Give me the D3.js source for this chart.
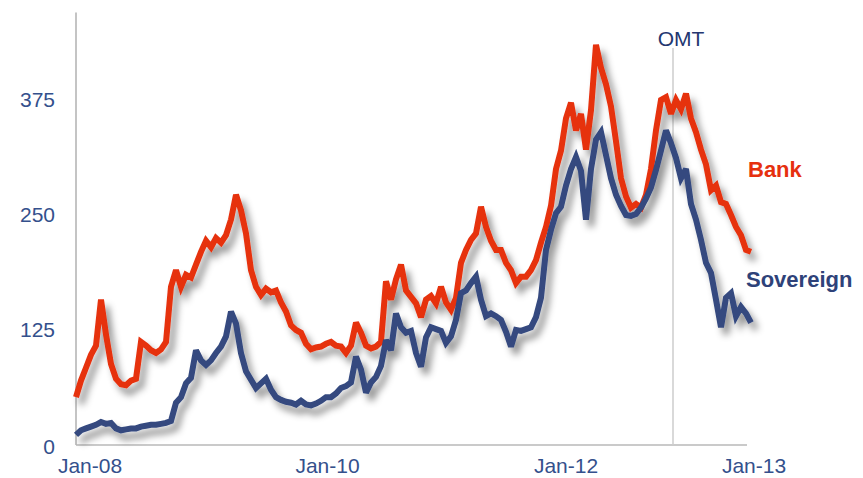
<!DOCTYPE html>
<html>
<head>
<meta charset="utf-8">
<script src="https://cdn.jsdelivr.net/npm/d3@7"></script>
<style>
  html, body { margin: 0; padding: 0; background: #ffffff; }
  svg { display: block; font-family: "Liberation Sans", Arial, Helvetica, sans-serif; }
</style>
</head>
<body>
<svg id="chart" width="863" height="478"></svg>
<script>
// CDS spreads (basis points), sampled at regular observation steps
const bank = [
  52, 70, 84, 98, 108, 158, 120, 88, 72, 66,
  65, 70, 72, 112, 108, 103, 100, 104, 112, 172,
  190, 172, 185, 182, 196, 210, 222, 215, 225, 220,
  228, 245, 272, 255, 230, 190, 172, 163, 170, 166,
  168, 155, 145, 130, 125, 122, 110, 104, 106, 107,
  110, 112, 108, 107, 100, 108, 133, 122, 108, 105,
  107, 112, 178, 158, 180, 196, 168, 161, 154, 139,
  158, 162, 154, 172, 155, 147, 160, 198, 212, 223,
  230, 259, 237, 222, 212, 212, 198, 190, 176, 183,
  183, 190, 201, 220, 237, 260, 300, 320, 355, 372,
  342, 360, 321, 364, 435, 410, 392, 368, 330, 290,
  270, 258, 262, 258, 272, 300, 342, 375, 378, 360,
  375, 365, 382, 355, 340, 321, 305, 277, 282, 264,
  262, 250, 237, 228, 212, 210
];
const sovereign = [
  11, 16, 18, 20, 22, 25, 23, 24, 18, 16,
  17, 18, 18, 20, 21, 22, 22, 23, 24, 26,
  46, 52, 67, 73, 103, 92, 87, 92, 100, 107,
  118, 145, 132, 100, 80, 71, 62, 67, 72, 60,
  52, 49, 47, 46, 44, 48, 44, 43, 45, 48,
  52, 52, 56, 62, 64, 68, 96, 82, 57, 68,
  74, 86, 114, 103, 143, 128, 122, 124, 100, 85,
  117, 128, 126, 124, 111, 118, 136, 165, 168, 176,
  183, 158, 140, 143, 140, 136, 123, 107, 125, 124,
  126, 128, 139, 160, 212, 234, 252, 259, 282, 300,
  313, 298, 245, 300, 332, 340, 315, 290, 272, 260,
  250, 249, 251, 258, 268, 280, 299, 320, 342, 328,
  312, 290, 300, 262, 245, 223, 198, 187, 158, 128,
  160, 165, 140, 150, 143, 133
];

// Axis labels and where they sit along the observation index
const yTicks = [0, 125, 250, 375];
const xTickLabels = ["Jan-08", "Jan-10", "Jan-12", "Jan-13"];
const xTickAt = [2.8, 50.3, 98, 135.6];
const omtAt = 119.4;

const svg = d3.select("#chart");

const x = d3.scaleLinear().domain([0, bank.length - 1]).range([76, 751]);
const y = d3.scaleLinear().domain([0, 375]).range([445, 100]);

// soft drop shadow under the lines
const defs = svg.append("defs");
const f = defs.append("filter").attr("id", "shadow")
  .attr("x", "-5%").attr("y", "-10%").attr("width", "115%").attr("height", "130%");
f.append("feDropShadow")
  .attr("dx", 5).attr("dy", 7).attr("stdDeviation", 3.5)
  .attr("flood-color", "#000").attr("flood-opacity", 0.42);

// axes lines
svg.append("line")
  .attr("x1", 76).attr("x2", 76)
  .attr("y1", y(0)).attr("y2", y(470))
  .attr("stroke", "#c4c4c4").attr("stroke-width", 2);
svg.append("line")
  .attr("x1", 76).attr("x2", 747)
  .attr("y1", y(0)).attr("y2", y(0))
  .attr("stroke", "#b8b8b8").attr("stroke-width", 1.5);

// OMT marker
svg.append("line")
  .attr("x1", x(omtAt)).attr("x2", x(omtAt))
  .attr("y1", 48).attr("y2", y(0))
  .attr("stroke", "#cccccc").attr("stroke-width", 1.5);
svg.append("text")
  .attr("x", x(omtAt) + 8).attr("y", 46)
  .attr("text-anchor", "middle")
  .attr("font-size", 21)
  .attr("fill", "#243670")
  .text("OMT");

// y tick labels
svg.append("g").selectAll("text").data(yTicks).join("text")
  .attr("x", 55).attr("y", d => y(d) + (d === 0 ? 2 : 0))
  .attr("dy", "0.35em")
  .attr("text-anchor", "end")
  .attr("font-size", 21)
  .attr("fill", "#34508c")
  .text(d => d);

// x tick labels
svg.append("g").selectAll("text").data(xTickLabels).join("text")
  .attr("x", (d, i) => x(xTickAt[i])).attr("y", 473)
  .attr("text-anchor", "middle")
  .attr("font-size", 21)
  .attr("fill", "#34508c")
  .text(d => d);

// series
const line = d3.line()
  .x((d, i) => x(i))
  .y(d => y(d))
  .curve(d3.curveLinear);

const series = [
  { name: "Bank", values: bank, color: "#e6300e" },
  { name: "Sovereign", values: sovereign, color: "#34497f" }
];

svg.append("g").attr("filter", "url(#shadow)")
  .selectAll("path").data(series).join("path")
  .attr("d", d => line(d.values))
  .attr("fill", "none")
  .attr("stroke", d => d.color)
  .attr("stroke-width", 6)
  .attr("stroke-linejoin", "miter")
  .attr("stroke-miterlimit", 3)
  .attr("stroke-linecap", "butt");

// series labels
svg.append("text")
  .attr("x", 748).attr("y", 177)
  .attr("font-size", 22).attr("font-weight", "bold")
  .attr("fill", "#e6300e")
  .text("Bank");
svg.append("text")
  .attr("x", 746).attr("y", 287)
  .attr("font-size", 22).attr("font-weight", "bold")
  .attr("fill", "#2e4279")
  .text("Sovereign");
</script>
</body>
</html>
